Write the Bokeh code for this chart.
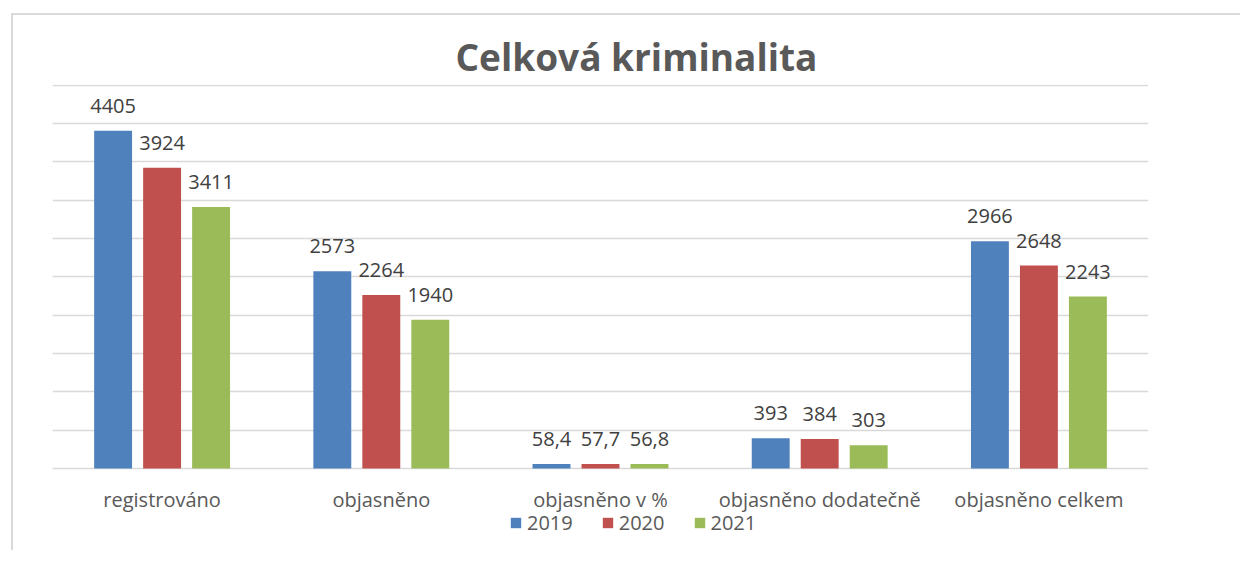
from bokeh.plotting import figure
from bokeh.models import ColumnDataSource, FactorRange, FixedTicker, LabelSet, Legend, LegendItem
from bokeh.core.properties import value
from bokeh.transform import dodge
from bokeh.embed import file_html
from bokeh.resources import INLINE

categories = ["registrováno", "objasněno", "objasněno v %", "objasněno dodatečně", "objasněno celkem"]
years = ["2019", "2020", "2021"]
v2019 = [4405, 2573, 58.4, 393, 2966]
v2020 = [3924, 2264, 57.7, 384, 2648]
v2021 = [3411, 1940, 56.8, 303, 2243]
grid_ticks = [0, 500, 1000, 1500, 2000, 2500, 3000, 3500, 4000, 4500, 5000]

colors = ["#4F81BD", "#C0504D", "#9BBB59"]
FONT = "Open Sans"


def fmt(v):
    if float(v).is_integer():
        return str(int(v))
    return str(v).replace(".", ",")


src = ColumnDataSource(data=dict(
    cat=categories,
    zero=[0] * len(categories),
    y2019=v2019, y2020=v2020, y2021=v2021,
    l2019=[fmt(v) for v in v2019],
    l2020=[fmt(v) for v in v2020],
    l2021=[fmt(v) for v in v2021],
))

# frame extends below the zero line to hold category labels and the legend
p = figure(
    x_range=FactorRange(*categories), y_range=(-1005, 5010),
    frame_width=1096, frame_height=461, output_backend="svg", toolbar_location=None,
    min_border_left=39, min_border_right=92, min_border_top=69, min_border_bottom=5,
    title="Celková kriminalita",
)
p.margin = (13, 0, 0, 11)
p.styles = {"border-left": "2px solid #d9d9d9", "border-top": "2px solid #d9d9d9"}
p.title.align = "left"
p.title.offset = 403
p.title.text_font = FONT
p.title.text_font_size = "37px"
p.title.text_font_style = "bold"
p.title.text_color = "#595959"
p.title.standoff = 5
p.outline_line_color = None

offsets = [-0.2235, 0.0, 0.2235]
renderers = []
for yr, off, col in zip(years, offsets, colors):
    r = p.vbar(x=dodge("cat", off, range=p.x_range), top="y" + yr, width=0.173,
               source=src, fill_color=col, line_color=None)
    renderers.append(r)
    lab = LabelSet(x=dodge("cat", off, range=p.x_range), y="y" + yr, text="l" + yr,
                   source=src, text_align="center", text_baseline="alphabetic",
                   y_offset=18, text_font=value(FONT), text_font_size="20px", text_color="#404040")
    p.add_layout(lab)

# category labels under the zero line
cat_labels = LabelSet(x="cat", y="zero", text="cat", source=src, text_align="center",
                      text_baseline="middle", y_offset=-31, text_font=value(FONT),
                      text_font_size="20px", text_color="#595959")
p.add_layout(cat_labels)

p.xaxis.visible = False
p.yaxis.visible = False
p.xgrid.visible = False
p.ygrid.ticker = FixedTicker(ticks=grid_ticks)
p.ygrid.grid_line_color = "#d9d9d9"
p.ygrid.grid_line_width = 1.5

legend = Legend(items=[LegendItem(label=yr, renderers=[r]) for yr, r in zip(years, renderers)],
                orientation="horizontal", location=(457, 9))
legend.glyph_width = 13
legend.glyph_height = 13
legend.label_standoff = 5
legend.spacing = 28
legend.padding = 0
legend.margin = 0
legend.border_line_color = None
legend.background_fill_alpha = 0
legend.label_text_font = FONT
legend.label_text_font_size = "20px"
legend.label_text_color = "#595959"
p.add_layout(legend, "center")

open("out.html", "w").write(file_html(p, INLINE))
